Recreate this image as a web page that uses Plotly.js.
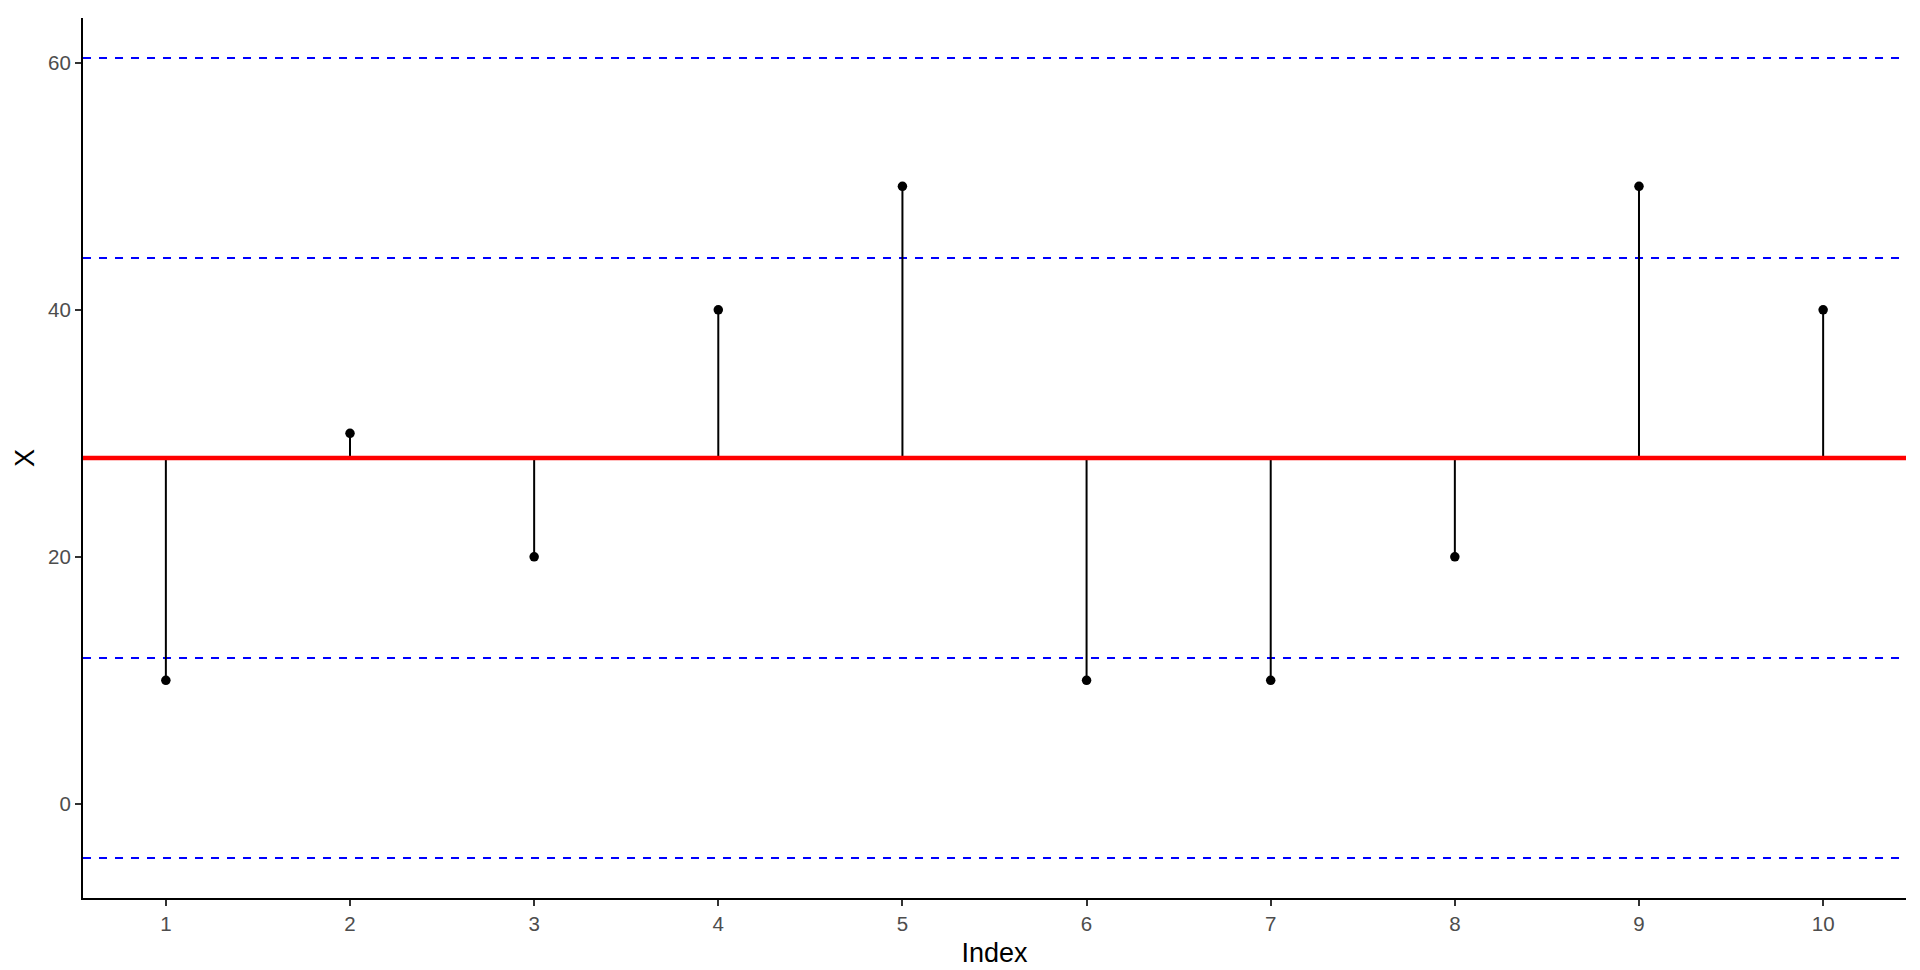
<!DOCTYPE html>
<html>
<head>
<meta charset="utf-8">
<script src="https://cdn.plot.ly/plotly-3.0.1.min.js"></script>
<style>html,body{margin:0;padding:0;background:#fff;}#chart{width:1920px;height:970px;}</style>
</head>
<body>
<div id="chart"></div>
<script>
const indexValues = [1, 2, 3, 4, 5, 6, 7, 8, 9, 10];
const xValues = [10, 30, 20, 40, 50, 10, 10, 20, 50, 40];
const yTicks = [0, 20, 40, 60];

const n = xValues.length;
const mean = xValues.reduce((a, b) => a + b, 0) / n;
const sd = Math.sqrt(xValues.reduce((a, v) => a + (v - mean) * (v - mean), 0) / (n - 1));
const limitLevels = [mean - 2 * sd, mean - sd, mean + sd, mean + 2 * sd];

const segX = [], segY = [];
indexValues.forEach((ix, i) => { segX.push(ix, ix, null); segY.push(mean, xValues[i], null); });

const traces = [
  {x: segX, y: segY, type: 'scatter', mode: 'lines', line: {color: '#000', width: 2}, hoverinfo: 'skip', showlegend: false},
  {x: indexValues, y: xValues, type: 'scatter', mode: 'markers', marker: {color: '#000', size: 9.5}, showlegend: false}
];

const shapes = limitLevels.map(v => ({type: 'line', xref: 'paper', x0: 0, x1: 1, yref: 'y', y0: v, y1: v,
  line: {color: '#0000FF', width: 2, dash: '8px,8px'}, layer: 'below'}));
shapes.push({type: 'line', xref: 'paper', x0: 0, x1: 1, yref: 'y', y0: mean, y1: mean,
  line: {color: '#FF0000', width: 4.5}, layer: 'above'});

const layout = {
  width: 1920, height: 970,
  margin: {l: 83, r: 14, t: 18, b: 72},
  paper_bgcolor: '#fff', plot_bgcolor: '#fff',
  font: {family: 'Liberation Sans, Arial, sans-serif'},
  showlegend: false,
  shapes: shapes,
  xaxis: {
    range: [0.55, 10.45], tickvals: indexValues, ticktext: indexValues.map(String),
    showgrid: false, zeroline: false, showline: true, linecolor: '#000', linewidth: 2,
    ticks: 'outside', ticklen: 6, tickwidth: 2, tickcolor: '#333',
    tickfont: {size: 20.5, color: '#4D4D4D'},
    title: {text: 'Index', font: {size: 27, color: '#000'}, standoff: 10}
  },
  yaxis: {
    range: [-7.63, 63.63], tickvals: yTicks, ticktext: yTicks.map(String),
    showgrid: false, zeroline: false, showline: true, linecolor: '#000', linewidth: 2,
    ticks: 'outside', ticklen: 6, tickwidth: 2, tickcolor: '#333',
    tickfont: {size: 20.5, color: '#4D4D4D'},
    title: {text: 'X', font: {size: 27, color: '#000'}, standoff: 6}
  }
};

Plotly.newPlot('chart', traces, layout, {staticPlot: true, displayModeBar: false});
</script>
</body>
</html>
